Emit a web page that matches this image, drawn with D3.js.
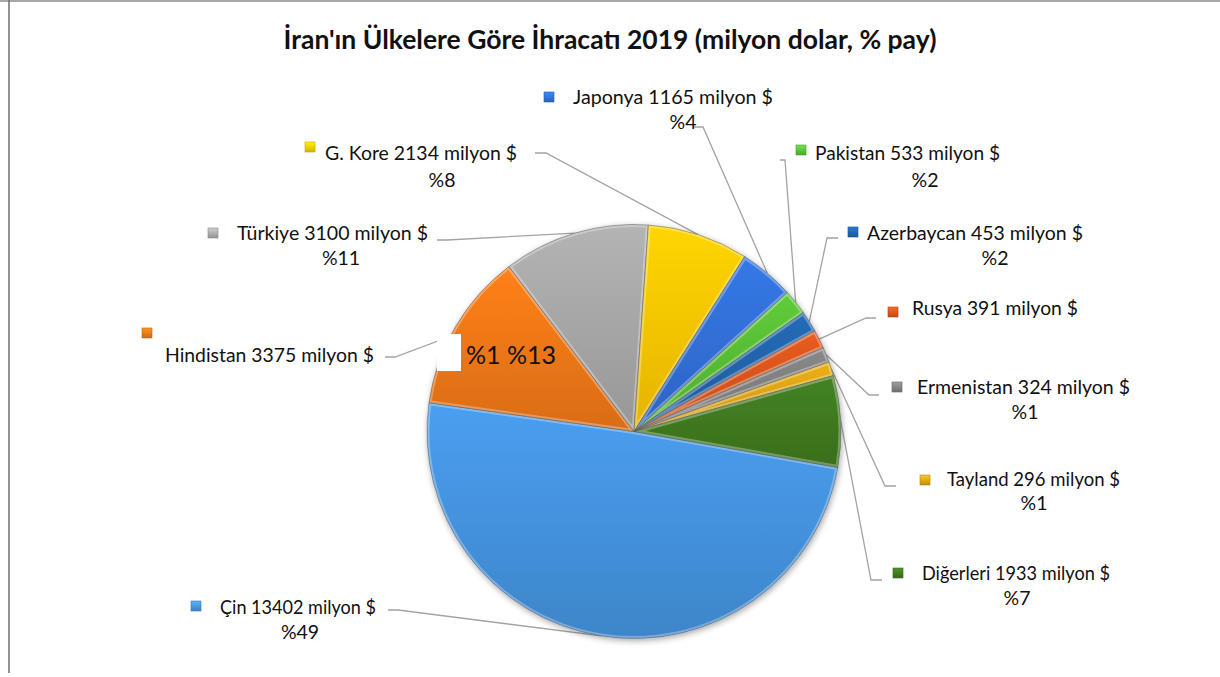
<!DOCTYPE html>
<html><head><meta charset="utf-8">
<script src="https://cdn.jsdelivr.net/npm/d3@7"></script>
<style>
html,body{margin:0;padding:0;background:#fff;}
svg{display:block;}
text{font-family:Lato,"Open Sans",sans-serif;fill:#111;}
</style></head><body>
<svg id="chart" width="1220" height="677"></svg>
<script>
// ---- data ----
const title = "İran'ın Ülkelere Göre İhracatı 2019 (milyon dolar, % pay)";
const categories = ["Çin","Hindistan","Türkiye","G. Kore","Japonya","Pakistan","Azerbaycan","Rusya","Ermenistan","Tayland","Diğerleri"];
const values = [13402,3375,3100,2134,1165,533,453,391,324,296,1933];
const percentLabels = ["%49","","%11","%8","%4","%2","%2","","%1","%1","%7"];
const movedLabel = "%1 %13";
const unit = "milyon $";

// ---- styles ----
const colors = ["#4594e0","#f27818","#a8a8a8","#ffc700","#3170d8","#58be36","#2264aa","#d9561e","#808080","#dea414","#3f7a20"];

// ---- layout (label positions: marker, text start/end, text y, percent line, leader start) ----
const layout = [
  {mk:[196,606],tx:220,te:376,ty:607,pc:[300,632],ld:[[388,610],[398,610]]},
  {mk:[147,333],tx:165,te:374,ty:355,pc:null,ld:[[385,357],[395,357]],end:[446,338]},
  {mk:[213,233],tx:237,te:428,ty:233,pc:[341,258],ld:[[437,240],[447,240]]},
  {mk:[310,147],tx:325,te:517,ty:153,pc:[442,180],ld:[[535,153],[546,153]]},
  {mk:[549,97],tx:573,te:773,ty:97,pc:[683,122],ld:[[693,127],[703,127]]},
  {mk:[801,150],tx:815,te:1000,ty:153,pc:[925,180],ld:[[780,160],[785,160]]},
  {mk:[853,232],tx:867,te:1083,ty:233,pc:[995,258],ld:[[838,238],[827,238]]},
  {mk:[893,312],tx:912,te:1078,ty:308,pc:null,ld:[[876,318],[866,318]]},
  {mk:[897,387],tx:917,te:1130,ty:387,pc:[1025,412],ld:[[879,395],[869,395]]},
  {mk:[925,480],tx:947,te:1120,ty:479,pc:[1034,503],ld:[[896,486],[885,486]]},
  {mk:[898,573],tx:922,te:1110,ty:573,pc:[1017,598],ld:[[882,580],[871,580]]}
];

const svg = d3.select("#chart");
const W = 1220, H = 677;
const cx = 634, cy = 431.5, R = 207;
const defs = svg.append("defs");

// gradients
colors.forEach((c,i)=>{
  const g = defs.append("linearGradient").attr("id","g"+i).attr("x1",0).attr("y1",0).attr("x2",0).attr("y2",1);
  g.append("stop").attr("offset","0%").attr("stop-color",d3.color(c).brighter(0.2));
  g.append("stop").attr("offset","100%").attr("stop-color",d3.color(c).darker(0.3));
  const m = defs.append("linearGradient").attr("id","m"+i).attr("x1",0).attr("y1",0).attr("x2",0).attr("y2",1);
  m.append("stop").attr("offset","0%").attr("stop-color",d3.color(c).brighter(0.6));
  m.append("stop").attr("offset","100%").attr("stop-color",d3.color(c).darker(0.4));
});
const f = defs.append("filter").attr("id","shadow").attr("x","-20%").attr("y","-20%").attr("width","140%").attr("height","140%");
f.append("feGaussianBlur").attr("in","SourceAlpha").attr("stdDeviation",3).attr("result","b");
f.append("feOffset").attr("in","b").attr("dx",1).attr("dy",2).attr("result","o");
f.append("feComponentTransfer").attr("in","o").attr("result","o2").append("feFuncA").attr("type","linear").attr("slope",0.35);
const fm = f.append("feMerge"); fm.append("feMergeNode").attr("in","o2"); fm.append("feMergeNode").attr("in","SourceGraphic");

// frame
svg.append("line").attr("x1",0).attr("x2",W).attr("y1",1).attr("y2",1).attr("stroke","#8a8a8a").attr("stroke-width",1.5);
svg.append("line").attr("x1",9).attr("x2",9).attr("y1",0).attr("y2",673).attr("stroke","#6f6f6f").attr("stroke-width",1.5);

// title
svg.append("text").attr("x",610).attr("y",49).attr("text-anchor","middle")
  .style("font-size","26.5px").style("font-weight","bold").text(title);

const data = categories.map((c,i)=>({name:c,value:values[i],i}));
const startA = 100*Math.PI/180;
const pie = d3.pie().value(d=>d.value).sort(null).startAngle(startA).endAngle(startA+2*Math.PI);
const arcs = pie(data);
const arc = d3.arc().innerRadius(0).outerRadius(R);
const edgeArc = d3.arc().innerRadius(R).outerRadius(R);

// leader lines
const gl = svg.append("g");
arcs.forEach((a,i)=>{
  const L = layout[i];
  const e = L.end ? L.end : (()=>{const p = edgeArc.centroid(a); return [cx+p[0], cy+p[1]];})();
  const pts = [L.ld[0], L.ld[1], e];
  gl.append("path").attr("d", d3.line()(pts)).attr("fill","none").attr("stroke","#a3a3a3").attr("stroke-width",1.3);
});

// pie
const gp = svg.append("g").attr("transform",`translate(${cx},${cy})`).attr("filter","url(#shadow)");
arcs.forEach((a,i)=>{
  defs.append("clipPath").attr("id","c"+i).append("path").attr("d",arc(a));
  gp.append("path").attr("d",arc(a)).attr("fill",`url(#g${i})`);
  gp.append("path").attr("d",arc(a)).attr("fill","none").attr("clip-path",`url(#c${i})`)
    .attr("stroke","#fff").attr("stroke-opacity",0.3).attr("stroke-width",5);
  gp.append("path").attr("d",arc(a)).attr("fill","none")
    .attr("stroke","#555").attr("stroke-opacity",0.55).attr("stroke-width",0.9);
});

// labels
const gt = svg.append("g").style("font-size","19.5px");
arcs.forEach((a,i)=>{
  const L = layout[i];
  gt.append("rect").attr("x",L.mk[0]-5).attr("y",L.mk[1]-5).attr("width",10).attr("height",10)
    .attr("fill",`url(#m${i})`).attr("stroke",d3.color(colors[i]).darker(0.6)).attr("stroke-width",0.6);
  gt.append("text").attr("x",L.tx).attr("y",L.ty).attr("dy","0.35em")
    .attr("textLength", L.te - L.tx).attr("lengthAdjust","spacingAndGlyphs")
    .text(`${categories[i]} ${values[i]} ${unit}`);
  if (L.pc && percentLabels[i]) {
    gt.append("text").attr("x",L.pc[0]).attr("y",L.pc[1]).attr("dy","0.35em").attr("text-anchor","middle")
      .text(percentLabels[i]);
  }
});

// moved label box in Hindistan slice
svg.append("rect").attr("x",437).attr("y",334).attr("width",24).attr("height",37).attr("fill","#fff");
svg.append("text").attr("x",466).attr("y",355).attr("dy","0.35em").style("font-size","25px").text(movedLabel);
</script>
</body></html>
